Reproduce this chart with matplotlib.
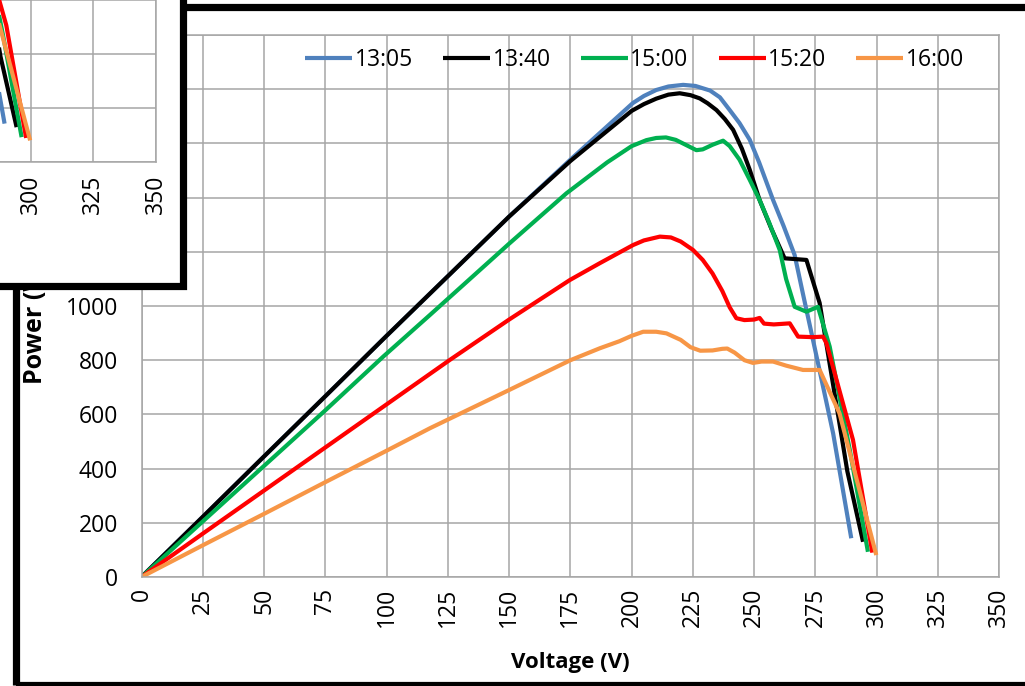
import matplotlib
matplotlib.use('Agg')
import matplotlib.pyplot as plt
from matplotlib.patches import Rectangle

plt.rcParams['font.family'] = 'Open Sans'

# PV curves (voltage V, power W)
v_1305 = [0, 25, 50, 75, 100, 125, 150, 175, 200.5, 205, 210, 215, 221, 226, 232, 236, 240, 244, 248.2, 252,
          257.7, 262, 266.5, 270, 274, 282.2, 289.6]
p_1305 = [0, 222, 445, 667, 890, 1110, 1330, 1540, 1749, 1775, 1797, 1810, 1816, 1812, 1795, 1770, 1723, 1675, 1613,
          1530, 1391, 1295, 1188, 1040, 874, 530, 143]

v_1340 = [0, 25, 50, 75, 100, 125, 150, 175, 200, 205, 210, 215, 219.6, 224, 227.8, 231, 234.6, 238, 241.4, 245,
          248.2, 252.2, 257, 262.4, 271.3, 276.7, 282, 288, 294.4]
p_1340 = [0, 222, 445, 667, 890, 1110, 1330, 1535, 1720, 1745, 1765, 1780, 1785, 1778, 1766, 1748, 1723, 1690, 1650, 1580,
          1502, 1391, 1285, 1176, 1170, 1011, 720, 390, 130]

v_1500 = [0, 25, 50, 75, 98.6, 117.7, 150, 173.4, 190, 200, 206, 210, 214, 218, 222, 226.4, 229, 233, 237.3, 240,
          244, 248.2, 252.2, 256, 260.4, 263, 266.5, 271.3, 276, 280.8, 289, 296.4]
p_1500 = [0, 205, 410, 615, 813, 967, 1230, 1416, 1530, 1590, 1612, 1620, 1622, 1613, 1595, 1575, 1578, 1595, 1610, 1590,
          1540, 1465, 1391, 1310, 1207, 1100, 997, 979, 997, 850, 469, 93]

v_1520 = [0, 25, 50, 75, 100, 125.8, 150, 174.8, 187, 200.6, 205, 211.5, 216, 220, 225, 229, 233, 237, 240, 242.7,
          246, 250, 252.2, 254, 258, 264.5, 267.9, 274, 278.1, 279.5, 290.3, 298.2]
p_1520 = [0, 160, 319, 478, 637, 801, 950, 1096, 1158, 1225, 1242, 1256, 1253, 1238, 1207, 1170, 1120, 1055, 995, 955,
          948, 950, 956, 935, 932, 936, 887, 885, 887, 862, 506, 90]

v_1600 = [0, 25, 50, 75, 100, 117.7, 150, 175, 187, 195, 200, 204.7, 210, 214.2, 220, 224, 228, 233, 237, 239,
          242, 246, 249.5, 253, 257.7, 263, 269.9, 276.7, 284.8, 299.8]
p_1600 = [0, 117, 233, 350, 466, 549, 690, 800, 844, 870, 890, 905, 905, 899, 875, 848, 835, 836, 842, 843,
          828, 800, 790, 795, 795, 780, 764, 764, 604, 81]

series = [
    ('13:05', v_1305, p_1305, '#4f81bd'),
    ('13:40', v_1340, p_1340, '#000000'),
    ('15:00', v_1500, p_1500, '#00b050'),
    ('15:20', v_1520, p_1520, '#ff0000'),
    ('16:00', v_1600, p_1600, '#f79646'),
]
x_ticks = list(range(0, 351, 25))
y_ticks = list(range(0, 2001, 200))

W, H = 1025, 686
grid_col = '#a6a6a6'
fig = plt.figure(figsize=(W / 100, H / 100), dpi=100)


def fx(px):
    return px / W


def fy(py):
    return 1 - py / H


# main chart
ax = fig.add_axes([fx(141.5), fy(577), (999.3 - 141.5) / W, (577 - 35) / H])
ax.set_zorder(0)
for name, v, p, c in series:
    ax.plot(v, p, color=c, lw=3, label=name, solid_joinstyle='round', solid_capstyle='butt')
ax.set_xlim(0, 350)
ax.set_ylim(0, 2000)
ax.set_xticks(x_ticks)
ax.set_yticks(y_ticks)
# labels above 1000 sit under the overlapping window
ax.set_yticklabels([str(t) if t <= 1000 else '' for t in y_ticks])
ax.grid(True, color=grid_col, lw=1.1)
ax.set_axisbelow(True)
for s in ax.spines.values():
    s.set_color(grid_col)
    s.set_linewidth(1.1)
ax.tick_params(axis='both', length=0, labelsize=16.5)
ax.tick_params(axis='x', rotation=90, pad=8)
ax.tick_params(axis='y', pad=17)
ax.set_xlabel('Voltage (V)', fontsize=16, fontweight='bold')
ax.set_ylabel('Power (W)', fontsize=18, fontweight='bold')
ax.xaxis.set_label_coords(0.5, -0.138)
ax.yaxis.set_label_coords(-0.109, 0.472)
ax.legend(loc='center', bbox_to_anchor=(0.575, 0.954), ncol=5, frameon=False, fontsize=16.5,
          handlelength=2.05, handletextpad=0.1, columnspacing=1.32, borderpad=0)

# outer frame of the screenshot
fig.patches.append(Rectangle((fx(15.5), fy(684.5)), (1040 - 15.5) / W, (684.5 - 7) / H,
                             transform=fig.transFigure, fill=False, ec='black', lw=5.2, zorder=0.5))

# overlapping window in the top-left corner
fig.patches.append(Rectangle((fx(-30), fy(286)), (182.5 + 30) / W, (286 + 30) / H,
                             transform=fig.transFigure, fc='white', ec='black', lw=5.2, zorder=1))

ins = fig.add_axes([fx(-20), fy(162.3), (156 + 20) / W, (162.3 + 10) / H])
ins.set_zorder(2)
for name, v, p, c in series:
    ins.plot(v, p, color=c, lw=3, solid_joinstyle='round', solid_capstyle='butt')
ins.set_xlim(279.8, 350)
ins.set_ylim(0, 637)
ins.set_xticks([300, 325, 350])
ins.set_yticks([0, 200, 400, 600])
ins.set_yticklabels([])
ins.grid(True, color=grid_col, lw=1.1)
ins.set_axisbelow(True)
for s in ins.spines.values():
    s.set_color(grid_col)
    s.set_linewidth(1.1)
ins.tick_params(axis='both', length=0, labelsize=16.5)
ins.tick_params(axis='x', rotation=90, pad=9)

fig.savefig('out.png', dpi=100)
